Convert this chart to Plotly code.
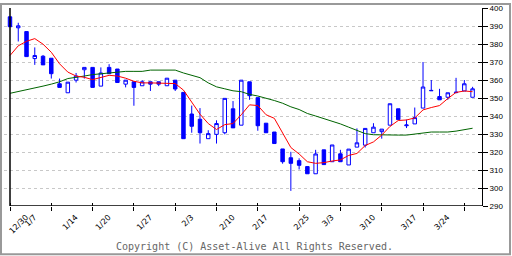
import plotly.graph_objects as go

# ---------------- data ----------------
x_idx = list(range(57))

opens = [395.1, 389.0, 386.9, 371.9, 373.2, 372.1, 357.9, 352.9, 359.9, 365.7,
         367.0, 356.6, 367.0, 366.1, 357.7, 359.0, 356.8, 359.0, 359.0, 356.8,
         359.9, 353.1, 341.1, 338.2, 327.4, 329.8, 330.7, 344.0, 334.9, 359.0,
         350.2, 336.0, 331.1, 321.7, 316.8, 315.2, 311.9, 307.9, 321.2, 314.6,
         319.0, 312.8, 322.7, 323.8, 330.7, 331.3, 334.9, 344.0, 334.6, 335.6,
         344.4, 354.0, 350.8, 350.4, 353.0, 353.9, 350.4]
highs = [395.1, 391.8, 386.9, 378.1, 373.9, 372.1, 360.8, 358.8, 363.9, 367.0,
         367.0, 367.0, 368.8, 366.1, 359.9, 359.0, 359.9, 359.0, 359.0, 361.0,
         359.9, 353.1, 345.8, 344.4, 332.1, 337.6, 349.8, 348.3, 359.9, 359.0,
         350.2, 336.0, 331.1, 321.7, 320.1, 316.5, 311.9, 321.2, 321.2, 323.9,
         321.2, 321.6, 333.1, 333.1, 336.0, 332.7, 346.8, 344.0, 338.0, 344.7,
         370.0, 360.0, 355.1, 352.9, 361.2, 360.0, 356.2]
lows = [389.6, 381.4, 373.0, 368.4, 368.4, 360.8, 355.9, 352.9, 358.6, 360.8,
        355.9, 356.6, 363.5, 358.6, 355.9, 345.7, 356.8, 353.9, 356.6, 356.8,
        353.9, 327.4, 330.7, 324.7, 327.4, 324.7, 329.8, 333.4, 334.9, 349.0,
        331.8, 330.7, 324.7, 313.5, 298.4, 310.3, 307.9, 307.9, 313.0, 314.6,
        314.6, 312.8, 322.7, 322.5, 330.7, 327.4, 334.9, 338.0, 333.3, 335.6,
        344.4, 353.9, 349.0, 349.0, 352.6, 353.9, 350.4]
closes = [389.6, 390.1, 373.0, 373.6, 368.4, 363.5, 355.9, 358.8, 362.2, 367.0,
          355.9, 363.9, 363.5, 358.6, 359.9, 355.9, 359.0, 357.7, 357.7, 361.0,
          355.0, 327.4, 334.3, 330.7, 330.2, 335.8, 349.8, 333.4, 359.9, 351.3,
          334.6, 330.7, 324.7, 314.6, 313.7, 312.6, 307.9, 318.9, 313.0, 323.9,
          314.6, 321.6, 325.1, 333.1, 333.8, 332.7, 346.8, 338.0, 335.0, 339.1,
          356.1, 354.2, 349.0, 352.9, 353.2, 357.9, 355.1]

ma_short = [373.6, 379.0, 381.5, 383.0, 379.9, 375.4, 369.0, 364.4, 362.2, 361.5,
            360.2, 361.5, 362.6, 362.2, 361.0, 359.3, 358.4, 358.4, 358.4, 358.4,
            358.0, 354.4, 348.0, 341.0, 335.8, 332.5, 335.2, 335.8, 340.7, 346.2,
            345.8, 340.7, 338.7, 330.7, 322.5, 318.9, 314.6, 313.7, 314.1, 315.0,
            315.6, 318.1, 319.2, 323.6, 325.6, 329.4, 334.2, 337.5, 337.8, 338.9,
            343.4, 344.7, 345.8, 349.7, 353.1, 353.9, 353.5]
ma_long = [352.6, 353.5, 354.4, 355.3, 356.6, 357.7, 359.0, 360.8, 361.3, 362.2,
           363.0, 363.5, 364.1, 364.4, 364.8, 364.8, 364.8, 365.5, 365.5, 365.5,
           365.5, 363.9, 362.8, 361.3, 358.4, 356.2, 355.1, 354.0, 353.5, 352.0,
           351.1, 350.0, 348.6, 347.1, 345.1, 343.6, 341.4, 340.0, 338.6, 337.1,
           335.6, 333.8, 332.2, 330.2, 329.6, 329.4, 329.4, 329.4, 329.4, 330.0,
           330.7, 331.1, 331.1, 331.1, 331.6, 332.3, 333.2]

label_text = ["12/30", "1/7", "1/14", "1/20", "1/27", "2/3", "2/10", "2/17",
              "2/25", "3/3", "3/10", "3/17", "3/24"]
label_idx = [0, 1, 6, 10, 15, 20, 25, 29, 34, 37, 42, 47, 51]
week_ticks = list(range(0, 57, 5))
y_ticks = list(range(290, 401, 10))

# ---------------- figure ----------------
X_RANGE = [-0.726, 57.14]
Y_RANGE = [290, 400]
BLUE = "#0000ff"

fig = go.Figure()
fig.add_trace(go.Scatter(x=x_idx, y=ma_long, mode="lines",
                         line=dict(color="#006400", width=1), hoverinfo="skip"))
fig.add_trace(go.Scatter(x=x_idx, y=ma_short, mode="lines",
                         line=dict(color="#ff0000", width=1), hoverinfo="skip"))
fig.add_trace(go.Candlestick(
    x=x_idx, open=opens, high=highs, low=lows, close=closes,
    increasing=dict(line=dict(color=BLUE, width=1), fillcolor="#ffffff"),
    decreasing=dict(line=dict(color=BLUE, width=1), fillcolor=BLUE),
    whiskerwidth=0))
# empty traces to bind the overlay axes (tick marks only)
fig.add_trace(go.Scatter(x=[], y=[], xaxis="x2", yaxis="y", showlegend=False))
fig.add_trace(go.Scatter(x=[], y=[], xaxis="x3", yaxis="y", showlegend=False))
fig.add_trace(go.Scatter(x=[], y=[], xaxis="x", yaxis="y2", showlegend=False))

fig.update_layout(
    width=512, height=256,
    margin=dict(l=4, r=30, t=5, b=50),
    paper_bgcolor="#ffffff", plot_bgcolor="#ffffff",
    showlegend=False,
    boxgap=0.4,
    xaxis=dict(range=X_RANGE, rangeslider=dict(visible=False),
               tickmode="array", tickvals=label_idx, ticktext=label_text,
               tickangle=-45, ticks="", showgrid=False, zeroline=False,
               showline=False, ticklabelshift=16, ticklabelstandoff=4,
               tickfont=dict(family="DejaVu Sans", size=8, color="#000000")),
    xaxis2=dict(range=X_RANGE, overlaying="x", tickmode="array",
                tickvals=week_ticks, ticks="outside", ticklen=4,
                tickcolor="#000000", showticklabels=False, showgrid=False,
                zeroline=False, showline=False),
    xaxis3=dict(range=X_RANGE, overlaying="x", tickmode="array",
                tickvals=week_ticks, ticks="inside", ticklen=3,
                tickcolor="#000000", showticklabels=False, showgrid=False,
                zeroline=False, showline=False),
    yaxis=dict(range=Y_RANGE, side="right", tickmode="array", tickvals=y_ticks,
               ticks="outside", ticklen=5, tickcolor="#000000",
               showline=True, linecolor="#000000", linewidth=1,
               showgrid=True, gridcolor="#c8c8c8", griddash="3px,3px",
               gridwidth=1, zeroline=False,
               tickfont=dict(family="Liberation Sans", size=8, color="#000000")),
    yaxis2=dict(range=Y_RANGE, side="right", overlaying="y", tickmode="array",
                tickvals=y_ticks, ticks="inside", ticklen=4,
                tickcolor="#000000", showticklabels=False, showgrid=False,
                zeroline=False, showline=False),
    shapes=[
        dict(type="line", xref="x", yref="paper", x0=0, x1=0, y0=0, y1=1,
             line=dict(color="#000000", width=1.5)),
        dict(type="line", xref="x", yref="y", x0=0, x1=X_RANGE[1],
             y0=Y_RANGE[0], y1=Y_RANGE[0], line=dict(color="#000000", width=1.5)),
        dict(type="rect", xref="paper", yref="paper",
             x0=-0.0063, x1=1.0586, y0=-0.2438, y1=1.0199,
             line=dict(color="#999999", width=2)),
    ],
    annotations=[
        dict(text="Copyright (C) Asset-Alive All Rights Reserved.",
             xref="paper", yref="paper", x=0.525, y=-0.2025,
             xanchor="center", yanchor="middle", showarrow=False,
             font=dict(family="DejaVu Sans Mono", size=10, color="#666666")),
    ],
)

fig.write_html("out.html")
